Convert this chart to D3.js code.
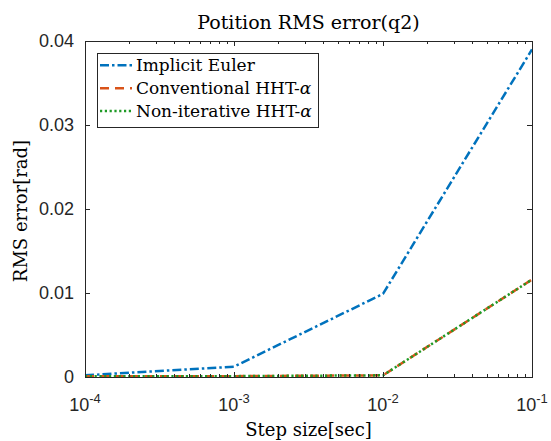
<!DOCTYPE html>
<html>
<head>
<meta charset="utf-8">
<script src="https://cdn.jsdelivr.net/npm/d3@7"></script>
<style>
  html, body { margin: 0; padding: 0; background: #fff; }
  svg { display: block; }
  .serif { font-family: "DejaVu Serif", "Liberation Serif", "Times New Roman", serif; }
  .sans { font-family: "Liberation Sans", Arial, Helvetica, sans-serif; }
</style>
</head>
<body>
<svg id="chart" width="551" height="441"></svg>
<script>
// Step sizes (seconds) and RMS position error of joint q2 for each integrator
const stepSizes = [1e-4, 1e-3, 1e-2, 1e-1];
const implicitEuler = [0.0002, 0.00123, 0.0099, 0.0390];
const conventionalHHT = [0.0001, 0.0001, 0.0002, 0.0116];
const nonIterativeHHT = [0.0001, 0.0001, 0.0002, 0.0116];

const seriesNames = ["Implicit Euler", "Conventional HHT-", "Non-iterative HHT-"];
const yTickValues = [0, 0.01, 0.02, 0.03, 0.04];
const yTickLabels = ["0", "0.01", "0.02", "0.03", "0.04"];
const xTickExponents = ["-4", "-3", "-2", "-1"];

const titleText = "Potition RMS error(q2)";
const xLabelText = "Step size[sec]";
const yLabelText = "RMS error[rad]";

const svg = d3.select("#chart");
const plotLeft = 85, plotRight = 532, plotTop = 41, plotBottom = 377;
const axisColor = "#262626";

const x = d3.scaleLog().domain([1e-4, 1e-1]).range([plotLeft, plotRight]);
const y = d3.scaleLinear().domain([0, 0.04]).range([plotBottom, plotTop]);

svg.append("rect").attr("x", 0).attr("y", 0).attr("width", 551).attr("height", 441).attr("fill", "#fff");

// Data lines
const line = d3.line().x(d => x(d[0])).y(d => y(d[1]));
const plot = svg.append("g");
const styles = [
  { data: implicitEuler, color: "#0072BD", dash: "9,3,2.5,3" },
  { data: conventionalHHT, color: "#D95319", dash: "9,6" },
  { data: nonIterativeHHT, color: "#1f9a26", dash: "2.2,2.6" }
];
styles.forEach(s => {
  plot.append("path")
    .datum(stepSizes.map((v, i) => [v, s.data[i]]))
    .attr("d", line)
    .attr("fill", "none")
    .attr("stroke", s.color)
    .attr("stroke-width", 2.5)
    .attr("stroke-dasharray", s.dash);
});

// Axes box with inward ticks
const axes = svg.append("g").attr("stroke", axisColor).attr("stroke-width", 1).attr("shape-rendering", "crispEdges");
axes.append("rect").attr("x", plotLeft).attr("y", plotTop)
  .attr("width", plotRight - plotLeft).attr("height", plotBottom - plotTop).attr("fill", "none");

const minorTicks = [];
stepSizes.slice(0, -1).forEach(dec => { for (let k = 2; k <= 9; k++) minorTicks.push(dec * k); });
minorTicks.forEach(v => {
  axes.append("line").attr("x1", x(v)).attr("x2", x(v)).attr("y1", plotBottom).attr("y2", plotBottom - 3);
  axes.append("line").attr("x1", x(v)).attr("x2", x(v)).attr("y1", plotTop).attr("y2", plotTop + 3);
});
stepSizes.forEach(v => {
  axes.append("line").attr("x1", x(v)).attr("x2", x(v)).attr("y1", plotBottom).attr("y2", plotBottom - 5);
  axes.append("line").attr("x1", x(v)).attr("x2", x(v)).attr("y1", plotTop).attr("y2", plotTop + 5);
});
yTickValues.forEach(v => {
  axes.append("line").attr("x1", plotLeft).attr("x2", plotLeft + 5).attr("y1", y(v)).attr("y2", y(v));
  axes.append("line").attr("x1", plotRight).attr("x2", plotRight - 5).attr("y1", y(v)).attr("y2", y(v));
});

// Tick labels
yTickValues.forEach((v, i) => {
  svg.append("text").attr("class", "sans")
    .attr("x", 74).attr("y", y(v)).attr("dy", "0.36em")
    .attr("text-anchor", "end")
    .attr("font-size", 18).attr("fill", axisColor)
    .text(yTickLabels[i]);
});
stepSizes.forEach((v, i) => {
  const t = svg.append("text").attr("class", "sans")
    .attr("x", x(v)).attr("y", 411)
    .attr("text-anchor", "middle")
    .attr("font-size", 18).attr("fill", axisColor);
  t.append("tspan").text("10");
  t.append("tspan").attr("dy", -8).attr("font-size", 13).text(xTickExponents[i]);
});

// Title and axis labels
svg.append("text").attr("class", "serif").attr("x", (plotLeft + plotRight) / 2).attr("y", 29)
  .attr("text-anchor", "middle").attr("font-size", 19).attr("fill", "#000")
  .text(titleText);
svg.append("text").attr("class", "serif").attr("x", (plotLeft + plotRight) / 2).attr("y", 436)
  .attr("text-anchor", "middle").attr("font-size", 18).attr("fill", "#000")
  .text(xLabelText);
svg.append("text").attr("class", "serif").attr("transform", `translate(27,${(plotTop + plotBottom) / 2 + 2}) rotate(-90)`)
  .attr("text-anchor", "middle").attr("font-size", 18).attr("fill", "#000")
  .text(yLabelText);

// Legend
const legend = svg.append("g");
legend.append("rect").attr("x", 97.5).attr("y", 53.5).attr("width", 221).attr("height", 74)
  .attr("fill", "#fff").attr("stroke", axisColor).attr("stroke-width", 1);
const rowY = [65.3, 88.2, 111];
styles.forEach((s, i) => {
  legend.append("line").attr("x1", 100).attr("x2", 132).attr("y1", rowY[i]).attr("y2", rowY[i])
    .attr("stroke", s.color).attr("stroke-width", 2.5).attr("stroke-dasharray", s.dash);
  const t = legend.append("text").attr("class", "serif").attr("x", 136).attr("y", rowY[i] + 6)
    .attr("font-size", 17).attr("fill", "#000");
  t.append("tspan").text(seriesNames[i]);
  if (i > 0) t.append("tspan").attr("font-style", "italic").text("α");
});
</script>
</body>
</html>
